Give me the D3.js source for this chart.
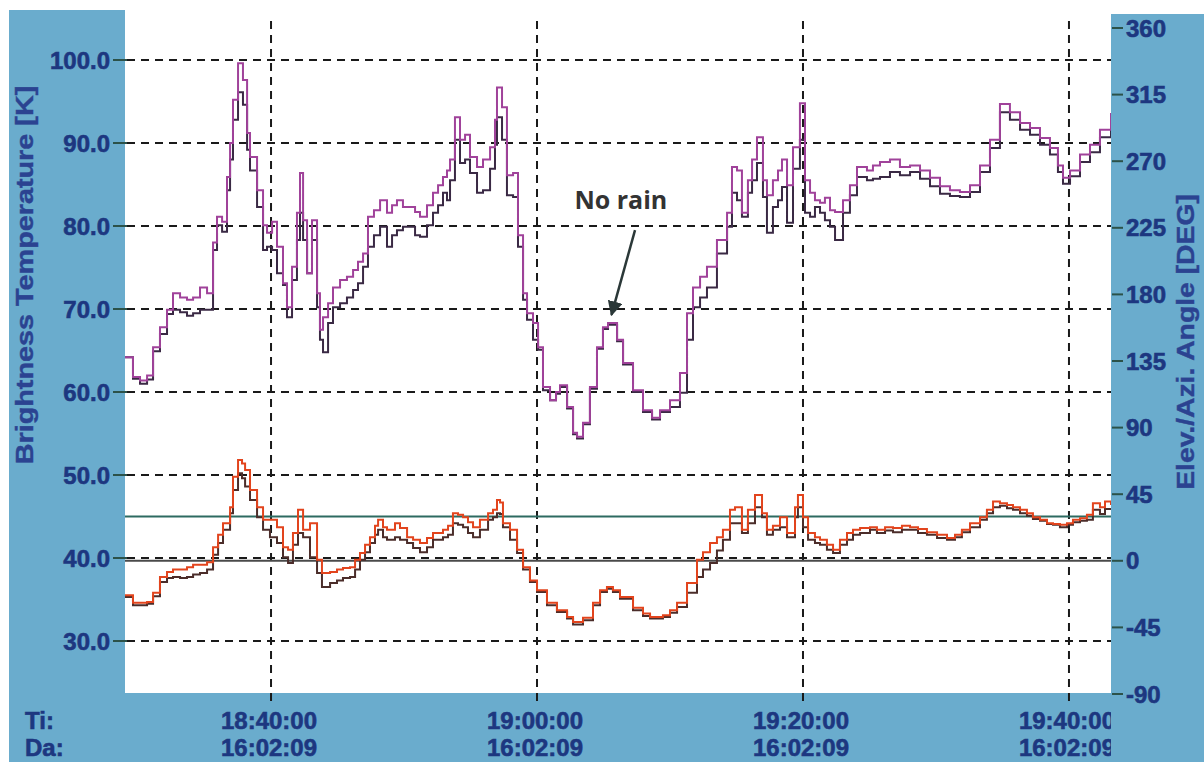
<!DOCTYPE html>
<html>
<head>
<meta charset="utf-8">
<script src="https://cdn.jsdelivr.net/npm/d3@7"></script>
<style>
  html, body { margin: 0; padding: 0; background: #fff; }
  svg { display: block; }
</style>
</head>
<body>
<svg id="chart" width="1204" height="762"></svg>
<script>
// ---------- DATA (time in minutes after 18:00, date 16.02.09) ----------
const tUpper = [29.02,29.62,30.15,30.68,31.13,31.65,32.18,32.63,33.16,33.68,
  34.14,34.66,35.19,35.64,35.94,36.32,36.69,36.92,37.14,37.52,
  37.89,38.20,38.42,38.95,39.40,39.70,40.08,40.45,40.90,41.20,
  41.58,41.95,42.18,42.41,42.71,43.08,43.46,43.68,43.91,44.29,
  44.66,45.19,45.71,46.17,46.54,46.92,47.29,47.74,48.20,48.72,
  49.10,49.47,49.92,50.45,50.83,51.20,51.73,52.18,52.56,52.93,
  53.23,53.46,53.83,54.21,54.59,54.96,55.49,55.94,56.47,56.84,
  56.99,57.37,57.74,58.20,58.57,58.95,59.25,59.70,60.08,60.45,
  60.98,61.43,61.73,62.26,62.71,63.01,63.46,63.98,64.51,64.96,
  65.34,66.02,66.47,67.22,67.97,68.65,69.25,70.00,70.75,71.28,
  71.73,72.26,72.78,73.53,74.29,74.66,75.04,75.41,75.86,76.17,
  76.54,76.99,77.29,77.74,78.12,78.42,78.80,79.25,79.77,80.15,
  80.53,80.90,81.28,81.65,82.03,82.41,83.01,83.53,84.06,84.81,
  85.26,85.79,86.54,87.29,88.05,88.80,89.55,90.30,91.05,91.80,
  92.56,93.31,94.06,94.81,95.56,96.32,97.07,97.82,98.57,99.17,
  99.55,100.08,100.83,101.58,102.33,103.16];
const tbMagenta = [64.2,61.8,61.4,62.0,65.4,67.8,69.9,71.9,71.4,71.1,
  71.4,72.6,71.9,78.0,81.1,80.5,85.9,90.0,95.2,99.6,
  97.6,91.2,88.3,84.3,80.1,79.2,80.5,77.5,73.1,70.2,
  75.1,81.6,86.4,80.7,74.3,80.7,71.9,67.5,69.0,70.7,
  72.6,73.5,73.9,74.7,75.7,76.7,81.1,81.9,83.1,81.6,
  82.5,83.1,82.3,82.3,81.7,81.1,82.5,84.0,84.9,85.9,
  86.7,88.0,93.1,90.4,91.0,88.3,87.1,88.0,89.5,92.8,
  96.7,94.3,86.1,86.4,78.9,71.9,69.5,68.3,65.4,60.6,
  59.0,60.0,60.8,58.2,55.1,54.6,56.3,60.6,65.4,67.8,
  68.3,66.3,63.5,60.2,57.8,56.9,57.8,59.0,62.3,69.5,
  72.6,73.9,75.1,78.3,81.6,87.1,86.7,81.6,85.5,88.0,
  90.7,85.5,83.7,85.5,86.7,88.0,84.9,89.5,94.8,85.5,
  84.0,83.1,82.8,83.4,81.9,81.7,83.1,84.9,87.1,86.7,
  87.3,87.7,88.0,87.1,87.3,86.7,85.8,84.8,84.3,84.1,
  84.9,87.3,90.4,94.7,93.7,92.4,91.8,90.6,89.4,87.3,
  85.8,86.7,88.6,89.8,91.6,93.6];
const tbDarkUpper = [64.2,61.6,61.0,61.5,64.9,67.0,69.4,69.9,69.6,69.2,
  69.5,69.9,69.9,77.1,80.1,79.3,84.3,88.0,92.8,96.1,
  94.6,89.2,86.7,82.3,77.1,77.5,77.1,74.3,72.9,69.0,
  73.5,78.3,81.6,78.3,74.3,78.3,70.2,66.3,64.8,68.3,
  70.2,70.7,71.4,72.3,73.1,75.1,77.5,78.9,79.9,77.5,
  78.9,79.5,79.9,79.9,78.9,78.7,80.1,81.6,82.5,84.0,
  83.1,85.5,90.4,87.6,88.0,86.4,84.0,84.3,86.9,89.8,
  93.1,90.4,83.7,83.5,77.5,71.1,68.7,66.3,65.1,60.2,
  59.0,59.8,60.6,58.0,54.9,54.4,56.1,60.4,65.2,67.6,
  68.1,66.1,63.3,60.0,57.6,56.7,57.6,58.2,59.9,66.3,
  70.2,71.4,72.6,76.7,79.9,84.0,83.1,81.1,84.0,85.5,
  87.6,83.5,79.2,82.3,83.1,84.7,80.4,86.9,90.4,81.6,
  81.1,82.3,81.6,80.7,79.9,78.3,81.6,83.7,85.9,85.5,
  85.7,85.9,86.5,86.1,86.5,85.7,84.8,83.9,83.6,83.5,
  84.1,86.5,89.4,93.7,92.8,91.6,91.0,89.8,88.6,86.5,
  85.1,86.0,87.7,88.9,90.7,92.5];

const tLower = [29.02,29.62,30.15,30.68,31.13,31.65,32.18,32.63,33.16,33.68,
  34.14,34.66,35.19,35.64,36.02,36.39,36.92,37.14,37.52,37.82,
  38.05,38.42,38.95,39.40,39.92,40.45,40.90,41.28,41.65,42.03,
  42.41,42.93,43.46,43.83,44.44,44.96,45.41,45.94,46.32,46.69,
  47.07,47.44,47.82,48.05,48.42,48.72,49.32,49.70,50.23,50.68,
  51.20,51.73,52.18,52.93,53.31,53.68,54.06,54.44,54.81,55.19,
  55.71,56.32,56.69,56.99,57.22,57.44,57.97,58.50,58.95,59.47,
  60.00,60.75,61.50,62.26,62.71,63.46,64.21,64.74,65.26,65.71,
  66.24,67.22,67.97,68.50,69.47,70.00,70.53,71.28,72.03,72.48,
  73.01,73.53,73.98,74.51,74.89,75.41,75.86,76.39,76.92,77.29,
  77.74,78.27,78.80,79.40,79.62,80.00,80.38,80.90,81.28,81.80,
  82.26,82.78,83.31,83.76,84.29,85.04,85.56,86.17,86.77,87.44,
  88.05,88.65,89.32,90.08,90.83,91.43,91.95,92.56,93.31,93.83,
  94.29,94.81,95.34,95.79,96.32,96.84,97.29,97.82,98.35,98.80,
  99.32,99.85,100.30,100.83,101.35,101.80,102.33,102.71,103.16];
const tbRed = [35.5,34.6,34.6,34.7,35.8,37.7,38.3,38.6,38.6,38.9,
  39.2,39.2,39.5,41.3,42.8,44.2,46.1,49.8,51.8,51.4,
  50.6,48.2,46.1,44.6,44.6,43.7,41.3,41.0,43.0,45.8,
  43.4,44.2,39.8,38.2,38.3,38.6,38.8,38.9,39.8,40.6,
  41.6,42.5,43.9,44.6,43.7,43.4,44.2,43.6,42.5,42.2,
  41.8,42.4,43.0,43.4,43.9,45.4,45.2,44.9,44.3,43.7,
  44.6,45.4,45.8,47.0,46.7,44.2,43.4,41.0,38.9,37.3,
  36.1,34.6,33.7,32.9,32.3,32.8,34.6,36.1,36.5,36.1,
  35.3,34.0,33.3,32.9,33.1,33.7,34.6,37.0,39.8,40.7,
  41.8,42.5,43.4,45.8,46.1,43.4,45.8,47.6,45.4,43.4,
  43.9,44.9,43.0,46.1,47.6,44.9,43.0,42.5,42.2,41.6,
  41.0,42.2,43.0,43.4,43.6,43.7,43.4,43.7,43.6,43.9,
  43.7,43.5,43.1,42.8,42.4,42.8,43.4,44.2,44.9,45.8,
  46.8,46.6,46.4,46.1,45.8,45.4,44.9,44.6,44.2,44.1,
  44.0,44.2,44.6,44.8,45.2,46.6,46.1,46.8,46.4];
const tbDarkLower = [35.3,34.3,34.3,34.5,35.4,37.1,37.6,37.7,37.6,37.7,
  38.0,38.2,38.6,40.4,41.8,43.4,45.4,48.2,50.2,49.6,
  48.6,47.0,44.9,43.4,42.5,41.8,40.1,39.4,41.6,43.0,
  42.5,40.1,38.2,36.5,37.0,37.3,37.6,37.7,38.6,39.8,
  40.7,41.8,42.8,43.4,42.5,42.2,42.5,42.2,41.8,41.2,
  40.7,41.3,42.2,42.5,42.8,44.2,44.0,43.7,43.0,42.5,
  43.4,44.6,44.9,45.4,45.3,43.7,42.2,40.6,38.6,37.1,
  35.9,34.3,33.5,32.7,32.0,32.5,34.3,35.9,36.3,35.9,
  35.1,33.7,33.0,32.7,32.9,33.4,34.1,35.8,37.7,38.6,
  39.4,40.9,42.2,44.2,44.2,43.0,44.2,46.1,44.9,42.8,
  43.4,43.7,42.5,44.9,46.1,43.7,42.2,41.8,41.6,41.0,
  40.6,41.6,42.2,42.8,43.0,43.4,43.0,43.3,43.1,43.4,
  43.4,43.0,42.8,42.4,42.2,42.5,43.1,43.7,44.6,45.4,
  46.1,46.3,46.0,45.8,45.4,45.1,44.7,44.5,44.1,44.0,
  43.7,44.0,44.3,44.5,44.6,45.8,45.3,45.9,45.8];

// elevation / azimuth reference lines (right axis, degrees)
const elevationDeg = 30;
const azimuthDeg = 0;

// ticks
const leftTicks = [30, 40, 50, 60, 70, 80, 90, 100];
const rightTicks = [-90, -45, 0, 45, 90, 135, 180, 225, 270, 315, 360];
const timeTicks = [40, 60, 80, 100];
const timeLabels = ["18:40:00", "19:00:00", "19:20:00", "19:40:00"];
const dateLabels = ["16:02:09", "16:02:09", "16:02:09", "16:02:09"];

// annotation (in data units: minutes, K)
const noteText = "No rain";
const notePos = [66.3, 82.05];
const arrowFrom = [67.37, 79.5];
const arrowTo = [65.6, 69.3];

// ---------- LAYOUT ----------
const W = 1204, H = 762;
const plotL = 125, plotR = 1111, plotB = 693;
const panelColor = "#6aaccd";
const labelColor = "#1d3780";
const tickColor = "#2c5249";
const fontFam = "'Liberation Sans', Arial, sans-serif";

const svg = d3.select("#chart");

const x = d3.scaleLinear().domain([29.02, 103.16]).range([plotL, plotR]);
const yL = d3.scaleLinear().domain([30, 100]).range([641, 60]);
const yR = d3.scaleLinear().domain([-90, 360]).range([694, 28]);

// background
svg.append("rect").attr("width", W).attr("height", H).attr("fill", "#fff");

// left panel + bottom band
svg.append("rect").attr("x", 9).attr("y", 10).attr("width", plotL - 9).attr("height", H - 10).attr("fill", panelColor);
svg.append("rect").attr("x", 9).attr("y", plotB).attr("width", W - 9).attr("height", H - plotB).attr("fill", panelColor);

// clip
svg.append("clipPath").attr("id", "plotclip")
  .append("rect").attr("x", plotL).attr("y", 0).attr("width", plotR - plotL).attr("height", plotB);

// horizontal dashed gridlines
svg.append("g").selectAll("line").data(leftTicks).join("line")
  .attr("x1", plotL + 2).attr("x2", plotR)
  .attr("y1", d => yL(d)).attr("y2", d => yL(d))
  .attr("stroke", "#1a1a1a").attr("stroke-width", 2)
  .attr("stroke-dasharray", "8,6");

// vertical dashed gridlines
svg.append("g").selectAll("line").data(timeTicks).join("line")
  .attr("x1", d => x(d)).attr("x2", d => x(d))
  .attr("y1", 21).attr("y2", 703)
  .attr("stroke", "#1a1a1a").attr("stroke-width", 2)
  .attr("stroke-dasharray", "8,6");

// reference lines
svg.append("line").attr("x1", plotL).attr("x2", plotR)
  .attr("y1", yR(elevationDeg)).attr("y2", yR(elevationDeg))
  .attr("stroke", "#2d6a61").attr("stroke-width", 2);
svg.append("line").attr("x1", plotL).attr("x2", plotR)
  .attr("y1", yR(azimuthDeg)).attr("y2", yR(azimuthDeg))
  .attr("stroke", "#4a4a4a").attr("stroke-width", 2);

// series lines
function series(t, v, color, w) {
  const data = t.map((d, i) => [d, v[i]]);
  svg.append("path").datum(data)
    .attr("clip-path", "url(#plotclip)")
    .attr("fill", "none").attr("stroke", color).attr("stroke-width", w)
    .attr("stroke-linejoin", "miter")
    .attr("d", d3.line().x(d => x(d[0])).y(d => yL(d[1])).curve(d3.curveStepAfter));
}
series(tUpper, tbDarkUpper, "#3a2944", 2);
series(tUpper, tbMagenta, "#a0429a", 2);
series(tLower, tbDarkLower, "#4b2d2a", 2);
series(tLower, tbRed, "#e2441d", 2);

// annotation
svg.append("defs").append("marker")
  .attr("id", "arrowhead").attr("viewBox", "0 0 10 10")
  .attr("refX", 9).attr("refY", 5)
  .attr("markerWidth", 6).attr("markerHeight", 6)
  .attr("markerUnits", "strokeWidth")
  .attr("orient", "auto")
  .append("path").attr("d", "M0,0 L10,5 L0,10 z").attr("fill", "#2b3838");
svg.append("line")
  .attr("x1", x(arrowFrom[0])).attr("y1", yL(arrowFrom[1]))
  .attr("x2", x(arrowTo[0])).attr("y2", yL(arrowTo[1]))
  .attr("stroke", "#2b3838").attr("stroke-width", 2.5)
  .attr("marker-end", "url(#arrowhead)");
svg.append("text")
  .attr("x", x(notePos[0])).attr("y", yL(notePos[1]))
  .attr("text-anchor", "middle")
  .attr("font-family", "'Open Sans', sans-serif").attr("font-weight", 700)
  .attr("font-size", 25).attr("fill", "#333")
  .text(noteText);

// left axis ticks + labels
const gl = svg.append("g");
gl.selectAll("line").data(leftTicks).join("line")
  .attr("x1", 113).attr("x2", plotL + 2)
  .attr("y1", d => yL(d)).attr("y2", d => yL(d))
  .attr("stroke", tickColor).attr("stroke-width", 2);
gl.selectAll("text").data(leftTicks).join("text")
  .attr("x", 110).attr("y", d => yL(d)).attr("dy", "0.36em")
  .attr("text-anchor", "end")
  .attr("font-family", fontFam).attr("font-weight", 700).attr("font-size", 24)
  .attr("fill", labelColor).attr("stroke", labelColor).attr("stroke-width", 0.6)
  .text(d => d3.format(".1f")(d));

// left title
svg.append("text")
  .attr("transform", "translate(33,275) rotate(-90) scale(1.2,1)")
  .attr("text-anchor", "middle")
  .attr("font-family", fontFam).attr("font-weight", 700).attr("font-size", 24)
  .attr("fill", "#2b4391").attr("stroke", "#2b4391").attr("stroke-width", 0.4)
  .text("Brightness Temperature [K]");

// bottom labels
const gb = svg.append("g").attr("font-family", fontFam).attr("font-weight", 700)
  .attr("font-size", 24).attr("fill", labelColor)
  .attr("stroke", labelColor).attr("stroke-width", 0.6);
gb.append("text").attr("x", 25).attr("y", 729).text("Ti:");
gb.append("text").attr("x", 25).attr("y", 756).text("Da:");
gb.selectAll("text.t").data(timeTicks).join("text").attr("class", "t")
  .attr("x", d => x(d) - 2).attr("y", 729).attr("text-anchor", "middle")
  .text((d, i) => timeLabels[i]);
gb.selectAll("text.d").data(timeTicks).join("text").attr("class", "d")
  .attr("x", d => x(d) - 2).attr("y", 756).attr("text-anchor", "middle")
  .text((d, i) => dateLabels[i]);

// right panel (covers clipped bottom label)
svg.append("rect").attr("x", plotR).attr("y", 14).attr("width", W - plotR).attr("height", H - 14).attr("fill", panelColor);

// right axis ticks + labels
const gr = svg.append("g");
gr.selectAll("line").data(rightTicks).join("line")
  .attr("x1", plotR + 1).attr("x2", plotR + 12)
  .attr("y1", d => yR(d)).attr("y2", d => yR(d))
  .attr("stroke", tickColor).attr("stroke-width", 2);
gr.selectAll("text").data(rightTicks).join("text")
  .attr("x", plotR + 15).attr("y", d => yR(d)).attr("dy", "0.36em")
  .attr("font-family", fontFam).attr("font-weight", 700).attr("font-size", 24)
  .attr("fill", labelColor).attr("stroke", labelColor).attr("stroke-width", 0.6)
  .text(d => String(d));

// right title
svg.append("text")
  .attr("transform", "translate(1194,342) rotate(-90) scale(1.18,1)")
  .attr("text-anchor", "middle")
  .attr("font-family", fontFam).attr("font-weight", 700).attr("font-size", 24)
  .attr("fill", "#2b4391").attr("stroke", "#2b4391").attr("stroke-width", 0.4)
  .text("Elev./Azi. Angle [DEG]");
</script>
</body>
</html>
